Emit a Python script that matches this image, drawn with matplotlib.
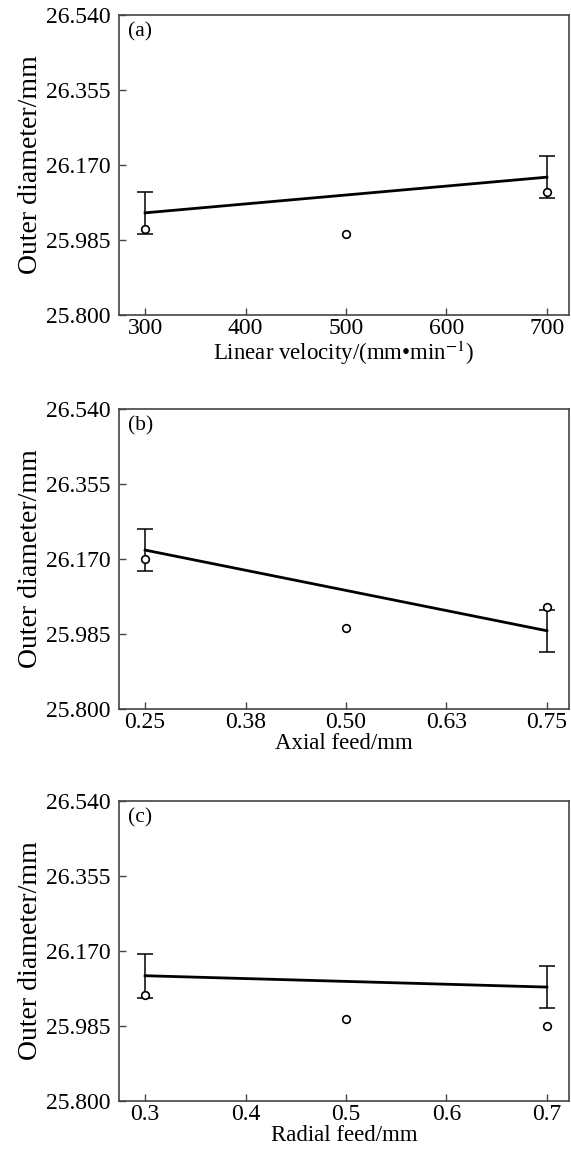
import matplotlib
matplotlib.use("Agg")
import matplotlib.pyplot as plt

plt.rcParams["font.family"] = ["Liberation Serif", "DejaVu Serif"]
plt.rcParams["mathtext.fontset"] = "stix"

# panel (a): linear velocity
vel_x = [300, 500, 700]
vel_pts = [26.012, 26.000, 26.103]
vel_fit = [26.052, 26.140]
vel_err = [0.052, 0.052]

# panel (b): axial feed
axial_x = [0.25, 0.50, 0.75]
axial_pts = [26.170, 26.000, 26.052]
axial_fit = [26.192, 25.993]
axial_err = [0.052, 0.052]

# panel (c): radial feed
radial_x = [0.3, 0.5, 0.7]
radial_pts = [26.061, 26.002, 25.985]
radial_fit = [26.109, 26.081]
radial_err = [0.054, 0.052]

y_ticks = [25.800, 25.985, 26.170, 26.355, 26.540]

panels = [
    ("(a)", vel_x, vel_pts, vel_fit, vel_err, (274, 722),
     [300, 400, 500, 600, 700], ["300", "400", "500", "600", "700"],
     "Linear velocity/(mm\u2022min$^{-1}$)"),
    ("(b)", axial_x, axial_pts, axial_fit, axial_err, (0.2175, 0.7775),
     [0.25, 0.375, 0.50, 0.625, 0.75], ["0.25", "0.38", "0.50", "0.63", "0.75"],
     "Axial feed/mm"),
    ("(c)", radial_x, radial_pts, radial_fit, radial_err, (0.274, 0.722),
     [0.3, 0.4, 0.5, 0.6, 0.7], ["0.3", "0.4", "0.5", "0.6", "0.7"],
     "Radial feed/mm"),
]

fig = plt.figure(figsize=(5.71, 11.61), dpi=100)
H = 1161.0
tops = [15, 409, 801]
ph = 300

for (tag, xs, pts, fit, err, xlim, xt, xtl, xlabel), top in zip(panels, tops):
    ax = fig.add_axes([119 / 571, 1 - (top + ph) / H, 450 / 571, ph / H])
    ends = [xs[0], xs[-1]]
    ax.plot(ends, fit, color="black", lw=2.0)
    ax.errorbar(ends, fit, yerr=err, fmt="none", ecolor="black",
                elinewidth=1.1, capsize=6, capthick=1.1)
    ax.plot(xs, pts, "o", mfc="white", mec="black", ms=5.5, mew=1.2)
    ax.set_xlim(*xlim)
    ax.set_ylim(25.800, 26.540)
    ax.set_yticks(y_ticks)
    ax.set_yticklabels([f"{v:.3f}" for v in y_ticks])
    ax.set_xticks(xt)
    ax.set_xticklabels(xtl)
    ax.tick_params(direction="in", length=5, width=1, labelsize=17,
                   color="#444444")
    ax.tick_params(axis="x", pad=2)
    ax.tick_params(axis="y", pad=6)
    for s in ax.spines.values():
        s.set_color("#444444")
        s.set_linewidth(1.2)
    ax.set_xlabel(xlabel, fontsize=16.5, labelpad=0)
    ax.set_ylabel("Outer diameter/mm", fontsize=20, labelpad=2)
    ax.text(0.02, 0.975, tag, transform=ax.transAxes, fontsize=15.5,
            va="top", ha="left")

fig.savefig("out.png", dpi=100)
